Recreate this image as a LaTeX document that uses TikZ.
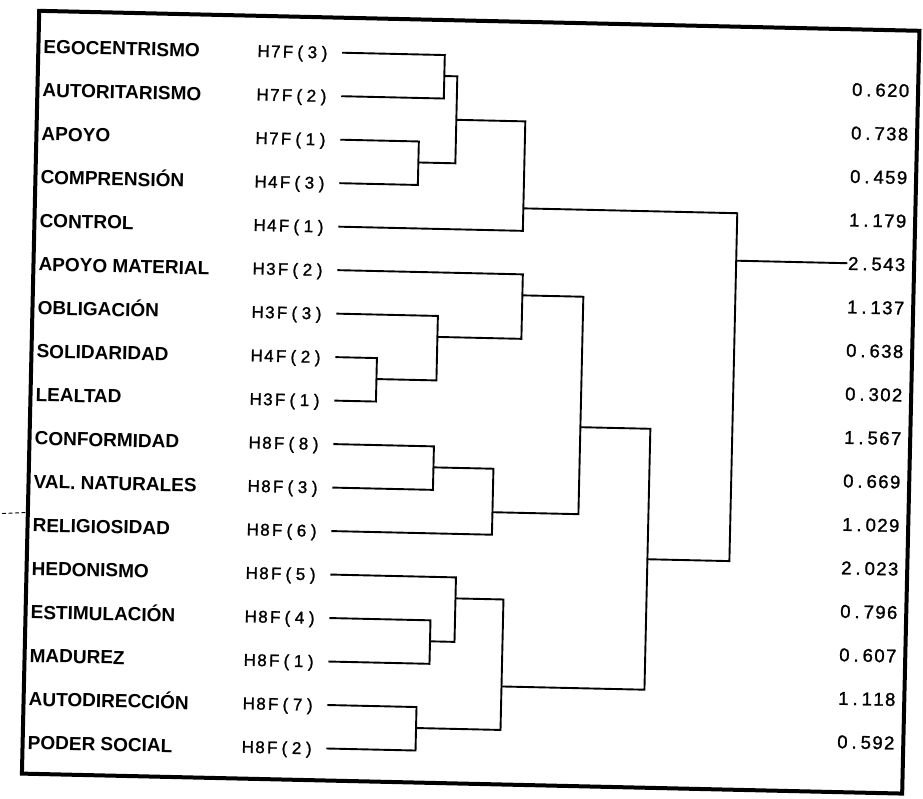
\documentclass[tikz,border=0pt]{standalone}
\usepackage{fontspec}
\setmainfont{Liberation Sans}
\newfontfamily\plotfont[FakeBold=1.3]{Liberation Sans}
\makeatletter
\def\mycells#1#2{\def\mycellwidth{#1}\expandafter\mycellsA#2\@nil}
\def\mycellsA#1{\ifx#1\@nil\else\makebox[\mycellwidth]{#1}\expandafter\mycellsA\fi}
\makeatother
\begin{document}
\begin{tikzpicture}[x=1pt,y=-1pt,
  lab/.style={anchor=west, inner sep=0pt, font=\fontsize{19}{21}\selectfont\bfseries, text height=13.6pt, text depth=0pt},
  code/.style={anchor=west, inner sep=0pt, font=\plotfont\fontsize{17}{19}\selectfont, text height=12.2pt, text depth=0pt},
  val/.style={anchor=east, inner sep=0pt, font=\plotfont\fontsize{18.5}{20}\selectfont, text height=13.2pt, text depth=0pt},
  link/.style={line width=1.9pt, line join=miter},
  fromleaf/.style={shorten <=11.3pt},
  toleaf/.style={shorten >=11.3pt},
  frame/.style={line width=4pt, line join=miter}]
\useasboundingbox (0,0) rectangle (923,799);
\draw[line width=0.9pt, dash pattern=on 4pt off 2.5pt] (2,513.5) -- (27,512.5);
\begin{scope}[rotate around={-1.3:(461.5,399.5)}, transform shape]
  \draw[frame] (30.5,20.5) rectangle (911,783.5);
  \foreach [count=\r] \lab/\cod in {EGOCENTRISMO/H7F(3), AUTORITARISMO/H7F(2), APOYO/H7F(1), COMPRENSIÓN/H4F(3), CONTROL/H4F(1), APOYO MATERIAL/H3F(2), OBLIGACIÓN/H3F(3), SOLIDARIDAD/H4F(2), LEALTAD/H3F(1), CONFORMIDAD/H8F(8), VAL. NATURALES/H8F(3), RELIGIOSIDAD/H8F(6), HEDONISMO/H8F(5), ESTIMULACIÓN/H8F(4), MADUREZ/H8F(1), AUTODIRECCIÓN/H8F(7), PODER SOCIAL/H8F(2)}{
    \node[lab] (l\r) at (35.5, {11.2+43.5*\r+1.5}) {\lab};
    \node[code] (c\r) at (249.5, {11.2+43.5*\r+0.8}) {\mycells{12.2pt}{\cod}};
  }
  \foreach [count=\i] \v in {0.620, 0.738, 0.459, 1.179, 2.543, 1.137, 0.638, 0.302, 1.567, 0.669, 1.029, 2.023, 0.796, 0.607, 1.118, 0.592}{
    \node[val] (v\i) at (903, {37+43.5*\i}) {\mycells{11.7pt}{\v}};
  }
  \coordinate (m1) at (437, 76.5);
  \coordinate (m2) at (413, 163.5);
  \coordinate (m3) at (450, 120);
  \coordinate (m4) at (519, 207);
  \coordinate (m5) at (376, 381);
  \coordinate (m6) at (436, 337.5);
  \coordinate (m7) at (520, 294);
  \coordinate (m8) at (435, 468);
  \coordinate (m9) at (495, 511.5);
  \coordinate (m10) at (581, 424.5);
  \coordinate (m11) at (435.5, 642);
  \coordinate (m12) at (460, 598.5);
  \coordinate (m13) at (423.5, 729);
  \coordinate (m14) at (508, 685.5);
  \coordinate (m15) at (651, 555);
  \coordinate (m16) at (733, 254.5);
  % leaf pairs
  \draw[link, fromleaf, toleaf] (c1.east) -| (m1) |- (c2.east);
  \draw[link, fromleaf, toleaf] (c3.east) -| (m2) |- (c4.east);
  \draw[link, fromleaf, toleaf] (c8.east) -| (m5) |- (c9.east);
  \draw[link, fromleaf, toleaf] (c10.east) -| (m8) |- (c11.east);
  \draw[link, fromleaf, toleaf] (c14.east) -| (m11) |- (c15.east);
  \draw[link, fromleaf, toleaf] (c16.east) -| (m13) |- (c17.east);
  % leaf with cluster
  \draw[link, fromleaf] (c7.east) -| (m6) |- (m5);
  \draw[link, fromleaf] (c6.east) -| (m7) |- (m6);
  \draw[link, fromleaf] (c13.east) -| (m12) |- (m11);
  % cluster with leaf
  \draw[link, toleaf] (m3) -| (m4) |- (c5.east);
  \draw[link, toleaf] (m8) -| (m9) |- (c12.east);
  % cluster with cluster
  \draw[link] (m1) -| (m3) |- (m2);
  \draw[link] (m7) -| (m10) |- (m9);
  \draw[link] (m12) -| (m14) |- (m13);
  \draw[link] (m10) -| (m15) |- (m14);
  \draw[link] (m4) -| (m16) |- (m15);
  \draw[link] (m16) -- (v5.west);
\end{scope}
\end{tikzpicture}
\end{document}
